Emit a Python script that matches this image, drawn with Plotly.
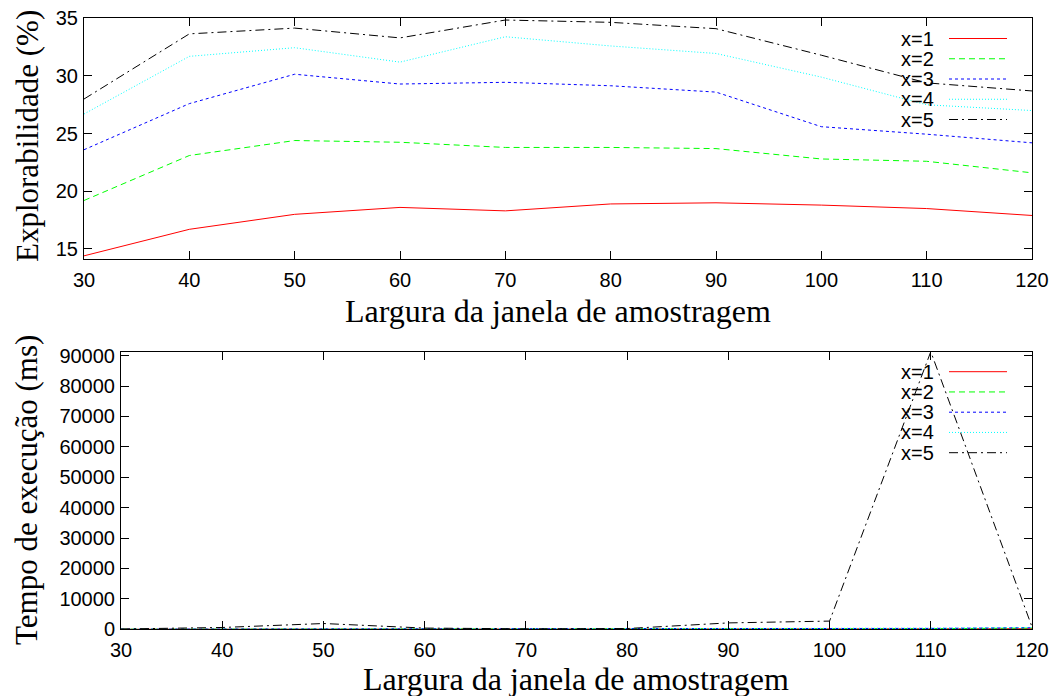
import plotly.graph_objects as go

W, H = 1052, 696

window = [30, 40, 50, 60, 70, 80, 90, 100, 110, 120]
series_names = ["x=1", "x=2", "x=3", "x=4", "x=5"]

# Top: Explorabilidade (%)
expl_x1 = [14.4, 16.7, 18.0, 18.6, 18.3, 18.9, 19.0, 18.8, 18.5, 17.9]
expl_x2 = [19.2, 23.1, 24.4, 24.25, 23.8, 23.8, 23.7, 22.8, 22.6, 21.6]
expl_x3 = [23.6, 27.6, 30.15, 29.3, 29.45, 29.15, 28.6, 25.6, 24.95, 24.2]
expl_x4 = [26.7, 31.7, 32.45, 31.2, 33.4, 32.6, 31.95, 29.9, 27.5, 27.0]
expl_x5 = [28.0, 33.65, 34.15, 33.3, 34.85, 34.65, 34.1, 31.8, 29.4, 28.7]

# Bottom: Tempo de execução (ms)
tempo_x1 = [20, 30, 40, 50, 60, 70, 90, 110, 130, 200]
tempo_x2 = [30, 40, 60, 70, 80, 90, 120, 150, 200, 400]
tempo_x3 = [40, 60, 80, 90, 100, 120, 160, 200, 300, 500]
tempo_x4 = [50, 80, 100, 120, 130, 150, 200, 250, 350, 600]
tempo_x5 = [100, 600, 1900, 400, 150, 250, 2100, 2700, 91300, 800]

top_y_range = [14.1, 35]
bot_y_range = [0, 91300]

colors = ["#ff0000", "#00ff00", "#0000ff", "#00ffff", "#000000"]
dashes = ["solid", "6px,4px", "3px,3px", "1px,2px", "9px,4px,2px,4px"]

expl = [expl_x1, expl_x2, expl_x3, expl_x4, expl_x5]
tempo = [tempo_x1, tempo_x2, tempo_x3, tempo_x4, tempo_x5]

fig = go.Figure()
for name, ys, c, d in zip(series_names, expl, colors, dashes):
    fig.add_trace(go.Scatter(x=window, y=ys, mode="lines", name=name,
                             line=dict(color=c, width=1, dash=d),
                             xaxis="x", yaxis="y", showlegend=False))
for name, ys, c, d in zip(series_names, tempo, colors, dashes):
    fig.add_trace(go.Scatter(x=window, y=ys, mode="lines", name=name,
                             line=dict(color=c, width=1, dash=d),
                             xaxis="x2", yaxis="y2", showlegend=False))


def px(x):
    return x / W


def py(y):
    return 1 - y / H


tick_font = dict(family="Liberation Sans, Arial, sans-serif", size=20, color="black")
xtitle_font = dict(family="Liberation Serif, Times New Roman, serif", size=32, color="black")
ytitle_font = dict(family="Liberation Serif, Times New Roman, serif", size=31, color="black")

axis_common = dict(showgrid=False, zeroline=False, showline=True, linecolor="black",
                   linewidth=1, mirror="allticks", ticks="inside", ticklen=8,
                   tickcolor="black", tickwidth=1, tickfont=tick_font,
                   automargin=False, tickformat="d", ticklabeloverflow="allow")

fig.update_layout(
    template="none",
    width=W, height=H,
    margin=dict(l=0, r=0, t=0, b=0, pad=0),
    paper_bgcolor="white", plot_bgcolor="white",
    hovermode=False,
    xaxis=dict(domain=[px(84), px(1032)], range=[30, 120], anchor="y",
               tickvals=window, ticklabelstandoff=3, **axis_common),
    yaxis=dict(domain=[py(259.3), py(18.3)], range=top_y_range, anchor="x",
               tickvals=[15, 20, 25, 30, 35], ticklabelstandoff=1, **axis_common),
    xaxis2=dict(domain=[px(121), px(1032)], range=[30, 120], anchor="y2",
                tickvals=window, ticklabelstandoff=3, **axis_common),
    yaxis2=dict(domain=[py(629.3), py(351.7)], range=bot_y_range, anchor="x2",
                tickvals=list(range(0, 90001, 10000)), ticklabelstandoff=1, **axis_common),
)

annotations = [
    dict(text="Largura da janela de amostragem", x=px(558), y=py(311), xref="paper", yref="paper",
         showarrow=False, font=xtitle_font, xanchor="center", yanchor="middle"),
    dict(text="Largura da janela de amostragem", x=px(576), y=py(679), xref="paper", yref="paper",
         showarrow=False, font=xtitle_font, xanchor="center", yanchor="middle"),
    dict(text="Explorabilidade (%)", x=px(27), y=py(136), xref="paper", yref="paper",
         showarrow=False, font=ytitle_font, textangle=-90, xanchor="center", yanchor="middle"),
    dict(text="Tempo de execução (ms)", x=px(27), y=py(490), xref="paper", yref="paper",
         showarrow=False, font=ytitle_font, textangle=-90, xanchor="center", yanchor="middle"),
]

shapes = []
legend_font = dict(family="Liberation Sans, Arial, sans-serif", size=20, color="black")
for top0 in (38.5, 371.7):
    for i, (name, c, d) in enumerate(zip(series_names, colors, dashes)):
        yy = top0 + i * 20.25
        annotations.append(dict(text=name, x=px(936), y=py(yy), xref="paper", yref="paper",
                                showarrow=False, font=legend_font, xanchor="right",
                                yanchor="middle"))
        shapes.append(dict(type="line", xref="paper", yref="paper",
                           x0=px(949), x1=px(1007), y0=py(yy), y1=py(yy),
                           line=dict(color=c, width=1, dash=d)))

fig.update_layout(annotations=annotations, shapes=shapes)

fig.write_html(
    "out.html",
    config={"displayModeBar": False},
    post_script="document.body.style.margin='0';document.body.style.overflow='hidden';",
)
